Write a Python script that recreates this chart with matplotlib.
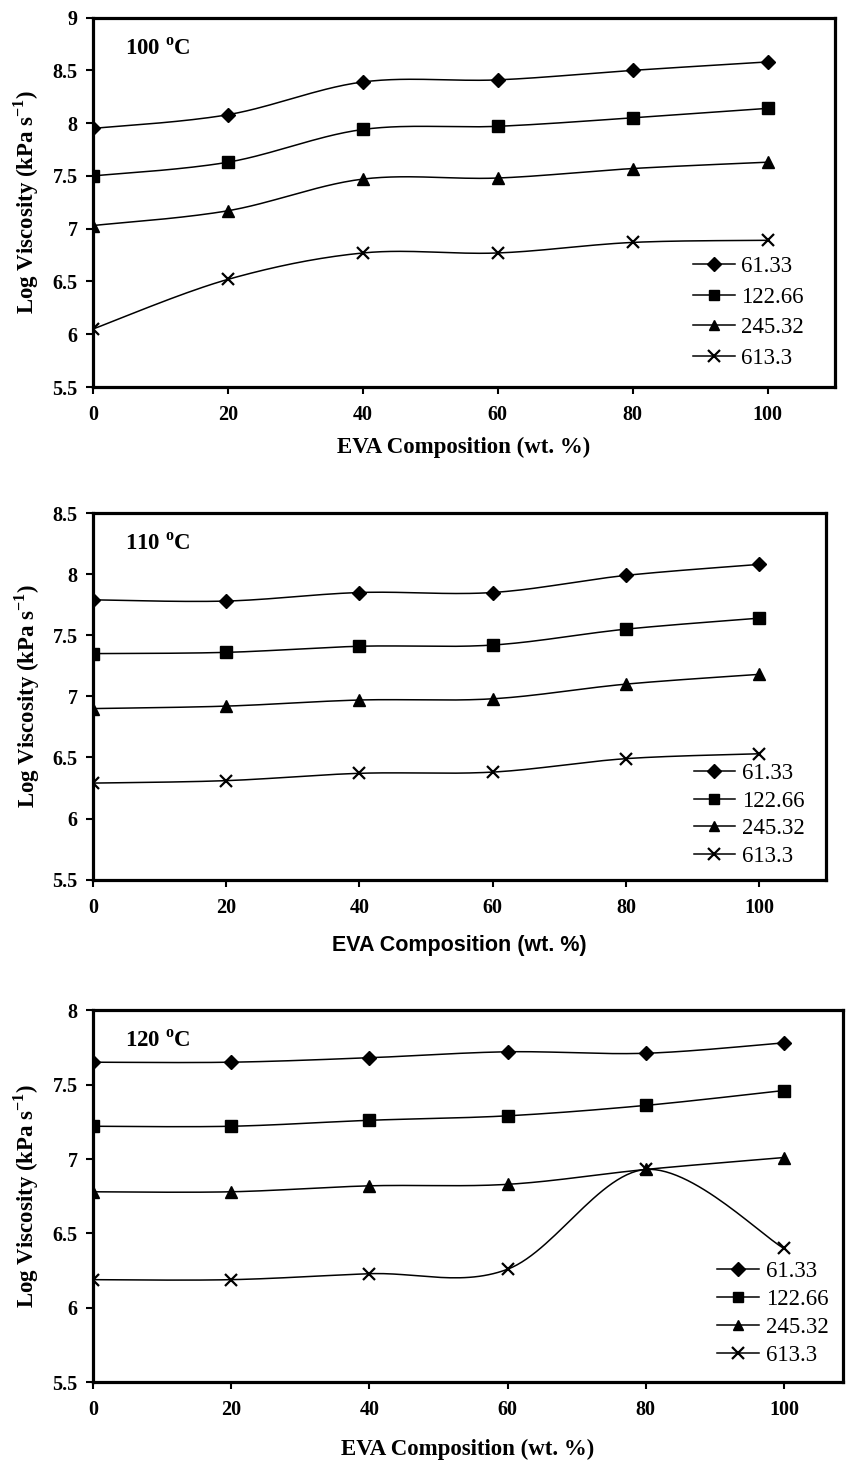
import numpy as np
import matplotlib
matplotlib.use('Agg')
import matplotlib.pyplot as plt

plt.rcParams['font.family'] = ['Liberation Serif', 'DejaVu Serif']
plt.rcParams['mathtext.fontset'] = 'custom'
plt.rcParams['mathtext.rm'] = 'Liberation Serif:bold'
plt.rcParams['mathtext.bf'] = 'Liberation Serif:bold'

# EVA composition (wt. %)
eva = [0, 20, 40, 60, 80, 100]
labels = ['61.33', '122.66', '245.32', '613.3']
markers = ['D', 's', '^', 'x']

# log viscosity at 100 C
v100_a = [7.95, 8.08, 8.39, 8.41, 8.50, 8.58]
v100_b = [7.50, 7.63, 7.94, 7.97, 8.05, 8.14]
v100_c = [7.03, 7.17, 7.47, 7.48, 7.57, 7.63]
v100_d = [6.05, 6.52, 6.77, 6.77, 6.87, 6.89]

# log viscosity at 110 C
v110_a = [7.79, 7.78, 7.85, 7.85, 7.99, 8.08]
v110_b = [7.35, 7.36, 7.41, 7.42, 7.55, 7.64]
v110_c = [6.90, 6.92, 6.97, 6.98, 7.10, 7.18]
v110_d = [6.29, 6.31, 6.37, 6.38, 6.49, 6.53]

# log viscosity at 120 C
v120_a = [7.65, 7.65, 7.68, 7.72, 7.71, 7.78]
v120_b = [7.22, 7.22, 7.26, 7.29, 7.36, 7.46]
v120_c = [6.78, 6.78, 6.82, 6.83, 6.93, 7.01]
v120_d = [6.19, 6.19, 6.23, 6.26, 6.93, 6.40]


def smooth(x, y, n=30):
    # excel-like smoothed line (catmull-rom through the points)
    p = np.column_stack([x, y]).astype(float)
    pts = np.vstack([p[0], p, p[-1]])
    out = []
    t = np.linspace(0, 1, n)[:, None]
    for i in range(1, len(pts) - 2):
        p0, p1, p2, p3 = pts[i - 1], pts[i], pts[i + 1], pts[i + 2]
        c1 = p1 + (p2 - p0) / 6
        c2 = p2 - (p3 - p1) / 6
        seg = ((1 - t) ** 3) * p1 + 3 * ((1 - t) ** 2) * t * c1 + 3 * (1 - t) * t ** 2 * c2 + t ** 3 * p2
        out.append(seg)
    out = np.vstack(out)
    return out[:, 0], out[:, 1]


fig = plt.figure(figsize=(8.46, 14.66), dpi=100)

# temp, series, ylim, axes rect, xmax, xlabel font, legend anchor, legend spacing, xlabel y
panels = [
    ('100', [v100_a, v100_b, v100_c, v100_d], (5.5, 9), [0.110, 0.736, 0.877, 0.252], 110, 'Liberation Serif', (0.809, 0.355), 0.42, -0.135),
    ('110', [v110_a, v110_b, v110_c, v110_d], (5.5, 8.5), [0.110, 0.400, 0.866, 0.250], 110, 'Liberation Sans', (0.82, 0.318), 0.29, -0.152),
    ('120', [v120_a, v120_b, v120_c, v120_d], (5.5, 8), [0.110, 0.057, 0.886, 0.254], 108.5, 'Liberation Serif', (0.833, 0.325), 0.29, -0.152),
]

for temp, series, ylim, rect, xmax, xfont, lpos, lsp, xly in panels:
    ax = fig.add_axes(rect)
    for vals, lab, m in zip(series, labels, markers):
        xs, ys = smooth(eva, vals)
        ax.plot(xs, ys, color='black', lw=1.1)
        ms = 9 if m == 'x' else (7.5 if m == 'D' else 8.5)
        ax.plot(eva, vals, linestyle='none', marker=m, color='black', ms=ms, mew=1.6 if m == 'x' else 1)
        ax.plot([], [], color='black', lw=1.1, marker=m, ms=ms * 0.9, mew=1.6 if m == 'x' else 1, label=lab)
    ax.set_xlim(0, xmax)
    ax.set_ylim(*ylim)
    ax.set_xticks([0, 20, 40, 60, 80, 100])
    yt = np.arange(ylim[0], ylim[1] + 0.01, 0.5)
    ax.set_yticks(yt)
    ax.set_yticklabels(['%g' % v for v in yt])
    for s in ax.spines.values():
        s.set_linewidth(2.3)
    ax.tick_params(axis='both', direction='out', length=5, width=1.5, labelsize=14.5, pad=6)
    ax.tick_params(axis='x', pad=8)
    for t in ax.get_xticklabels() + ax.get_yticklabels():
        t.set_fontweight('bold')
    ax.set_xlabel('EVA Composition (wt. %)', fontsize=16.5 if xfont != 'Liberation Sans' else 15.5,
                  fontweight='bold', family=xfont)
    ax.xaxis.set_label_coords(0.5, xly)
    ax.set_ylabel(r'Log Viscosity (kPa s$^{\mathbf{-1}}$)', fontsize=16.5, fontweight='bold')
    ax.yaxis.set_label_coords(-0.07, 0.5)
    ax.text(0.043, 0.945, temp + r' $^{\mathbf{o}}$C', transform=ax.transAxes, fontsize=16.5,
            fontweight='bold', va='top', ha='left')
    ax.legend(loc='upper left', bbox_to_anchor=lpos, frameon=False, fontsize=16.5,
              handlelength=1.8, handletextpad=0.3, labelspacing=lsp, borderaxespad=0, borderpad=0)

fig.savefig('out.png', dpi=100)
